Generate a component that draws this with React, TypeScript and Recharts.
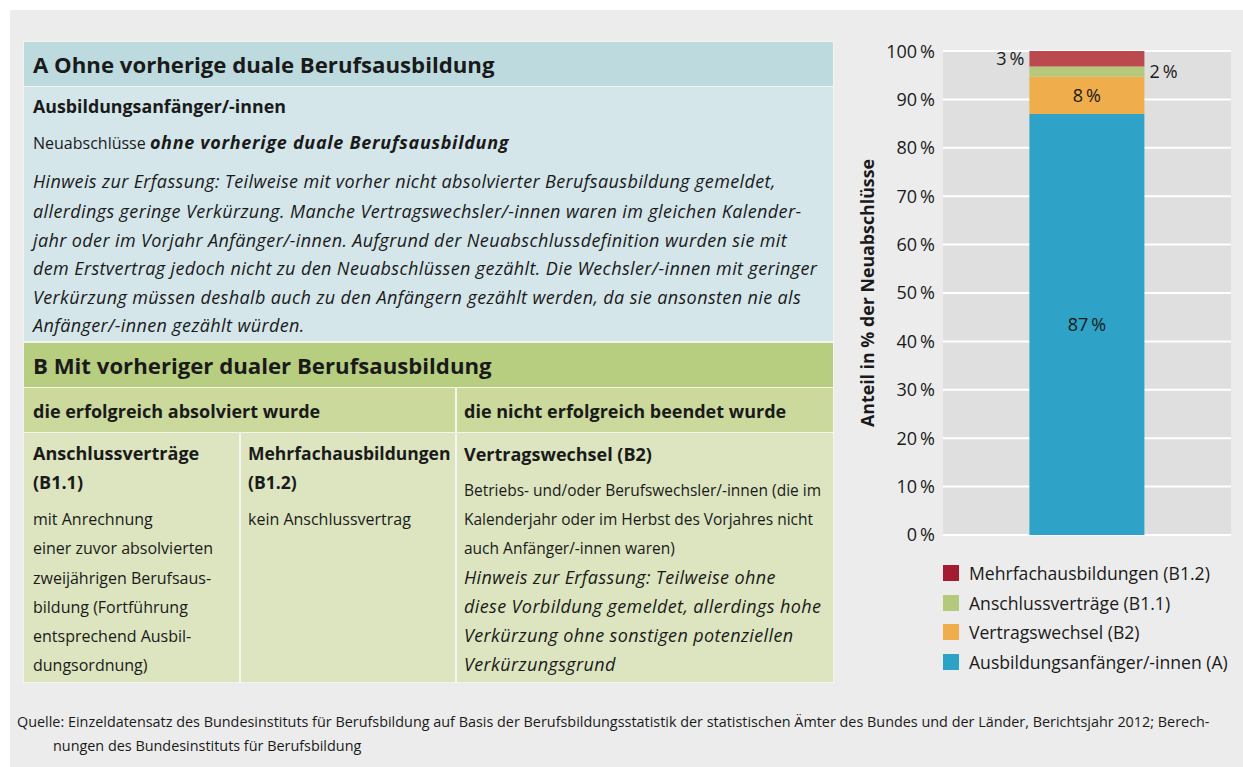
import { BarChart, Bar, XAxis, YAxis, CartesianGrid, Legend, LabelList } from "recharts";

const categories = ["2012"];
const ausbildungsanfaenger = [87];
const vertragswechsel = [7.7];
const anschlussvertraege = [2.1];
const mehrfachausbildungen = [3.2];
const yTicks = [0, 10, 20, 30, 40, 50, 60, 70, 80, 90, 100];

const FONT = "'Open Sans', 'Noto Sans', sans-serif";
const INK = "#1a1a1a";

// stacked bottom -> top
const series = [
  { key: "a", name: "Ausbildungsanfänger/-innen (A)", values: ausbildungsanfaenger, color: "#2ea3c7", legend: "#2ca2c6", pos: "center" },
  { key: "b2", name: "Vertragswechsel (B2)", values: vertragswechsel, color: "#efad4b", legend: "#efad4b", pos: "center" },
  { key: "b11", name: "Anschlussverträge (B1.1)", values: anschlussvertraege, color: "#b6c97a", legend: "#b5c97a", pos: "right" },
  { key: "b12", name: "Mehrfachausbildungen (B1.2)", values: mehrfachausbildungen, color: "#bb4a4f", legend: "#a51b30", pos: "left" },
];

const data = categories.map((c, i) => {
  const row: Record<string, string | number> = { name: c };
  series.forEach((s) => (row[s.key] = s.values[i]));
  return row;
});

const pct = (v: number) => `${Math.round(v)}\u2009%`;

// open sans italic runs narrow, so widen it a bit
const IT = { fontStyle: "italic", fontSize: 18, letterSpacing: 0.38 } as const;

function T({ x, cy, size = 16, bold = false, italic = false, children }: any) {
  const lh = 28;
  return (
    <div
      style={{
        position: "absolute",
        left: x,
        top: cy - lh / 2,
        lineHeight: `${lh}px`,
        fontSize: size,
        fontWeight: bold ? 700 : 400,
        whiteSpace: "nowrap",
        ...(italic ? IT : {}),
      }}
    >
      {children}
    </div>
  );
}

function Box({ x, y, w, h, bg }: any) {
  return <div style={{ position: "absolute", left: x, top: y, width: w, height: h, background: bg }} />;
}

function LegendBox() {
  return (
    <div style={{ fontFamily: FONT, color: INK }}>
      {[...series].reverse().map((s) => (
        <div key={s.key} style={{ display: "flex", alignItems: "center", height: 29.7 }}>
          <div style={{ width: 16, height: 16, background: s.legend, marginRight: 10 }} />
          <span style={{ fontSize: 17.6, whiteSpace: "nowrap" }}>{s.name}</span>
        </div>
      ))}
    </div>
  );
}

export default function App() {
  return (
    <div
      style={{
        position: "absolute",
        left: 0,
        top: 0,
        width: 1243,
        height: 767,
        background: "#fff",
        fontFamily: FONT,
        color: INK,
        overflow: "hidden",
      }}
    >
      <Box x={10} y={10} w={1233} h={757} bg="#ececec" />

      {/* table */}
      <Box x={23} y={41} w={811} h={642} bg="#f4f6ee" />
      <Box x={24} y={42} w={809} h={44} bg="#bddadf" />
      <Box x={24} y={87} w={809} h={254} bg="#d4e6ea" />
      <Box x={24} y={343} w={809} h={44} bg="#b7cd80" />
      <Box x={24} y={388} w={431} h={44} bg="#cbd99d" />
      <Box x={457} y={388} w={376} h={44} bg="#cbd99d" />
      <Box x={24} y={433} w={215} h={249} bg="#dce5bf" />
      <Box x={241} y={433} w={214} h={249} bg="#dce5bf" />
      <Box x={457} y={433} w={376} h={249} bg="#dce5bf" />

      <T x={33} cy={65} size={22.2} bold>A Ohne vorherige duale Berufsausbildung</T>
      <T x={33} cy={106} size={17.8} bold>Ausbildungsanfänger/-innen</T>
      <T x={33} cy={142}>
        Neuabschlüsse{" "}
        <span style={{ fontWeight: 700, fontStyle: "italic", fontSize: 18, letterSpacing: 0.7 }}>
          ohne vorherige duale Berufsausbildung
        </span>
      </T>
      <T x={33} cy={181} italic>Hinweis zur Erfassung: Teilweise mit vorher nicht absolvierter Berufsausbildung gemeldet,</T>
      <T x={33} cy={211} italic>allerdings geringe Verkürzung. Manche Vertragswechsler/-innen waren im gleichen Kalender-</T>
      <T x={33} cy={240} italic>jahr oder im Vorjahr Anfänger/-innen. Aufgrund der Neuabschlussdefinition wurden sie mit</T>
      <T x={33} cy={268} italic>dem Erstvertrag jedoch nicht zu den Neuabschlüssen gezählt. Die Wechsler/-innen mit geringer</T>
      <T x={33} cy={297} italic>Verkürzung müssen deshalb auch zu den Anfängern gezählt werden, da sie ansonsten nie als</T>
      <T x={33} cy={325} italic>Anfänger/-innen gezählt würden.</T>

      <T x={33} cy={366} size={22.2} bold>B Mit vorheriger dualer Berufsausbildung</T>
      <T x={33} cy={411} size={18} bold>die erfolgreich absolviert wurde</T>
      <T x={464} cy={411} size={18} bold>die nicht erfolgreich beendet wurde</T>

      <T x={33} cy={453} size={18} bold>Anschlussverträge</T>
      <T x={33} cy={482} size={18} bold>(B1.1)</T>
      <T x={33} cy={519}>mit Anrechnung</T>
      <T x={33} cy={548}>einer zuvor absolvierten</T>
      <T x={33} cy={578}>zweijährigen Berufsaus-</T>
      <T x={33} cy={607}>bildung (Fortführung</T>
      <T x={33} cy={636}>entsprechend Ausbil-</T>
      <T x={33} cy={665}>dungsordnung)</T>

      <T x={248} cy={453} size={17.5} bold>Mehrfachausbildungen</T>
      <T x={248} cy={482} size={17.5} bold>(B1.2)</T>
      <T x={248} cy={519}>kein Anschlussvertrag</T>

      <T x={464} cy={454} size={18} bold>Vertragswechsel (B2)</T>
      <T x={464} cy={490} size={15.5}>Betriebs- und/oder Berufswechsler/-innen (die im</T>
      <T x={464} cy={519} size={15.5}>Kalenderjahr oder im Herbst des Vorjahres nicht</T>
      <T x={464} cy={548} size={15.5}>auch Anfänger/-innen waren)</T>
      <T x={464} cy={577} italic>Hinweis zur Erfassung: Teilweise ohne</T>
      <T x={464} cy={606} italic>diese Vorbildung gemeldet, allerdings hohe</T>
      <T x={464} cy={635} italic>Verkürzung ohne sonstigen potenziellen</T>
      <T x={464} cy={664} italic>Verkürzungsgrund</T>

      {/* chart */}
      <div style={{ position: "absolute", left: 850, top: 40 }}>
        <BarChart
          width={390}
          height={650}
          data={data}
          margin={{ top: 11, right: 9, bottom: 155, left: 0 }}
          barCategoryGap="30%"
        >
          <CartesianGrid vertical={false} fill="#dfdfdf" stroke="#ffffff" strokeWidth={2} />
          <XAxis dataKey="name" hide />
          <YAxis
            width={93}
            domain={[0, 100]}
            ticks={yTicks}
            tickFormatter={pct}
            axisLine={false}
            tickLine={false}
            tick={{ fontSize: 18, fill: INK, fontFamily: FONT }}
            label={{
              value: "Anteil in % der Neuabschlüsse",
              angle: -90,
              position: "insideLeft",
              offset: 18,
              style: { textAnchor: "middle", fontSize: 17.8, fontWeight: 700, fill: INK, fontFamily: FONT },
            }}
          />
          {series.map((s) => (
            <Bar key={s.key} dataKey={s.key} name={s.name} stackId="s" fill={s.color} isAnimationActive={false}>
              <LabelList
                dataKey={s.key}
                position={s.pos as any}
                formatter={(v: any) => pct(Number(v))}
                style={{ fontSize: 18, fill: INK, fontFamily: FONT }}
              />
            </Bar>
          ))}
          <Legend
            layout="vertical"
            align="center"
            verticalAlign="middle"
            content={() => <LegendBox />}
            wrapperStyle={{ left: 93, top: 518, width: 300, height: 120 }}
          />
        </BarChart>
      </div>

      <div style={{ position: "absolute", left: 17, top: 710, fontSize: 14.4, lineHeight: "24px", whiteSpace: "nowrap" }}>
        Quelle: Einzeldatensatz des Bundesinstituts für Berufsbildung auf Basis der Berufsbildungsstatistik der statistischen Ämter des Bundes und der Länder, Berichtsjahr 2012; Berech-
      </div>
      <div style={{ position: "absolute", left: 53, top: 734, fontSize: 14.4, lineHeight: "24px", whiteSpace: "nowrap" }}>
        nungen des Bundesinstituts für Berufsbildung
      </div>
    </div>
  );
}
